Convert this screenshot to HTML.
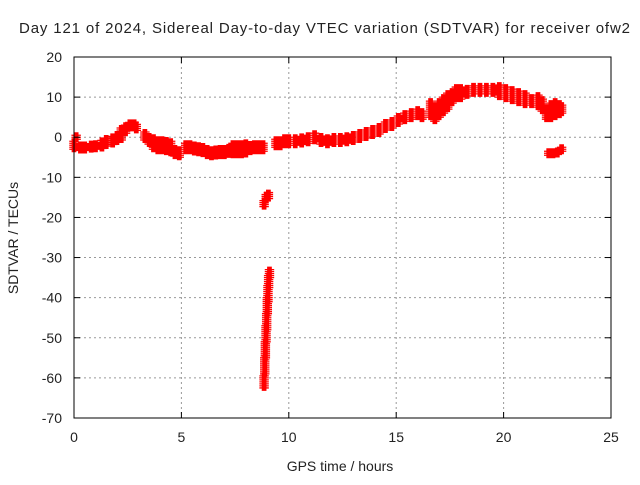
<!DOCTYPE html>
<html><head><meta charset="utf-8"><style>
body{margin:0;background:#fff;}
svg text{font-family:"Liberation Sans",sans-serif;font-size:14px;fill:#222;}
</style></head><body>
<svg id="chart" width="640" height="480">
<rect width="640" height="480" fill="#fff"/>
<text x="19" y="33" textLength="611" lengthAdjust="spacing" style="font-size:15px">Day 121 of 2024, Sidereal Day-to-day VTEC variation (SDTVAR) for receiver ofw2</text>
<g id="grid"></g><g id="marks"></g><g id="axes"></g>
<text x="340" y="471" text-anchor="middle">GPS time / hours</text>
<text transform="translate(18,238) rotate(-90)" text-anchor="middle">SDTVAR / TECUs</text>
</svg>
<script>
const xTicks=[0,5,10,15,20,25];
const yTicks=[20,10,0,-10,-20,-30,-40,-50,-60,-70];
const times=[0,0.1,0.3,0.5,0.8,1,1.3,1.5,1.8,2,2.2,2.4,2.6,2.8,2.9,
3.3,3.5,3.7,3.9,4.1,4.3,4.5,4.7,4.9,
5.2,5.4,5.6,5.8,6,6.2,6.4,6.6,6.8,7,7.2,7.4,7.6,7.8,8,8.2,8.4,8.6,8.8,
8.85,8.95,9.05,
8.85,8.88,8.91,8.94,8.97,9.0,9.03,9.06,9.1,
9.4,9.6,9.8,10,10.3,10.6,10.9,11.2,11.5,11.8,12.1,12.4,12.7,13,13.3,13.6,13.9,14.2,14.5,14.8,15.1,15.4,15.7,16,16.2,
16.6,16.8,17,17.2,17.4,17.6,17.8,18,18.3,18.6,18.9,19.2,19.5,19.8,20.1,20.4,20.7,21,21.3,
21.6,21.8,22,22.2,22.4,22.6,22.7,
22.1,22.3,22.5,22.7];
const values=[-2,0,-2.5,-2.5,-2.3,-2.2,-1.8,-1.2,-0.8,0,0.8,2,3,3,2.5,
0.5,-0.5,-1.5,-2,-2,-2.2,-2.5,-3.5,-4,
-2.5,-2.5,-2.8,-3,-3,-3.5,-4,-3.8,-3.5,-3.5,-3.2,-3,-3,-3,-2.8,-2.5,-2.5,-2.5,-2.5,
-16.5,-15,-14.5,
-61,-57,-53,-49,-46,-42,-39,-36,-34,
-1.5,-1.5,-1,-1,-1,-0.8,-0.5,0,-0.5,-0.8,-0.5,-0.5,-0.3,0,0.5,1,1.5,2,3,3.5,4.5,5,5.5,6,5.5,
7,6,7,8,9,10,11,11,11.5,12,12,12,12,11.5,11,10.5,10,9.5,9,
9,8,6,6.5,7,7,7,
-4,-4,-3.8,-3];
const spread=[1,0.5,0.8,0.8,0.8,0.8,1,1,1,1.2,1.5,1,0.8,0.8,0.8,
1.2,1.2,1.5,1.5,1.5,1.5,1.5,1.2,1,
1,1,1,1,1.2,1.2,1,1,1.2,1.2,1.2,1.5,1.5,1.5,1.5,1.2,1,1,1,
0.8,0.8,0.8,
1.5,2,2,2,2,2,2,1.5,1,
1,1,1,1,1,1,1,1,1.2,1.2,1.2,1.2,1.2,1.2,1.2,1.2,1.2,1.2,1.2,1.2,1.2,1,1,1,1,
2,2,2,2,2,1.5,1.5,1.5,1.2,1.2,1.2,1.2,1.2,1.5,1.5,1.5,1.5,1.5,1,
1.5,1.5,1.5,2,2,1.5,1,
0.5,0.5,0.5,0.5];
const X0=74,X1=611,Y0=57,Y1=418;
const xs=t=>X0+(t-0)/25*(X1-X0);
const ys=v=>Y0+(20-v)/90*(Y1-Y0);
const NS='http://www.w3.org/2000/svg';
const grid=document.getElementById('grid'),axes=document.getElementById('axes'),marks=document.getElementById('marks');
function mk(tag,at,p){const e=document.createElementNS(NS,tag);for(const k in at)e.setAttribute(k,at[k]);p.appendChild(e);return e;}
xTicks.forEach(t=>{const x=xs(t);
 if(t>0&&t<25){const g=mk('line',{x1:x,x2:x,y1:Y0,y2:Y1,stroke:'#999','stroke-dasharray':'2,3'},grid);
 
 }
 const l=mk('text',{x:x,y:Y1+24,'text-anchor':'middle'},axes);l.textContent=t;
 
 
 mk('line',{x1:x,x2:x,y1:Y1,y2:Y1-6,stroke:'#000'},axes);mk('line',{x1:x,x2:x,y1:Y0,y2:Y0+6,stroke:'#000'},axes);});
yTicks.forEach(v=>{const y=ys(v);
 if(v<20&&v>-70){const g=mk('line',{x1:X0,x2:X1,y1:y,y2:y,stroke:'#999','stroke-dasharray':'2,3'},grid);
 
 }
 const l=mk('text',{x:X0-12,y:y+5,'text-anchor':'end'},axes);l.textContent=v;
 
 
 mk('line',{x1:X0,x2:X0+6,y1:y,y2:y,stroke:'#000'},axes);mk('line',{x1:X1,x2:X1-6,y1:y,y2:y,stroke:'#000'},axes);});
const fr=mk('rect',{x:X0,y:Y0,width:X1-X0,height:Y1-Y0,fill:'none',stroke:'#000'},axes);


let d='';
times.forEach((t,i)=>{const s=spread[i];
 for(let k=-s;k<=s+1e-6;k+=0.5){const y=ys(values[i]+k);
  for(let j=-0.08;j<=0.081;j+=0.04){const xx=xs(t+j);d+=`M${xx-3},${y}h6M${xx},${y-3}v6`;}}
});
const p=mk('path',{d:d,stroke:'#f00','stroke-width':1.3,fill:'none'},marks);


</script>
</body></html>
